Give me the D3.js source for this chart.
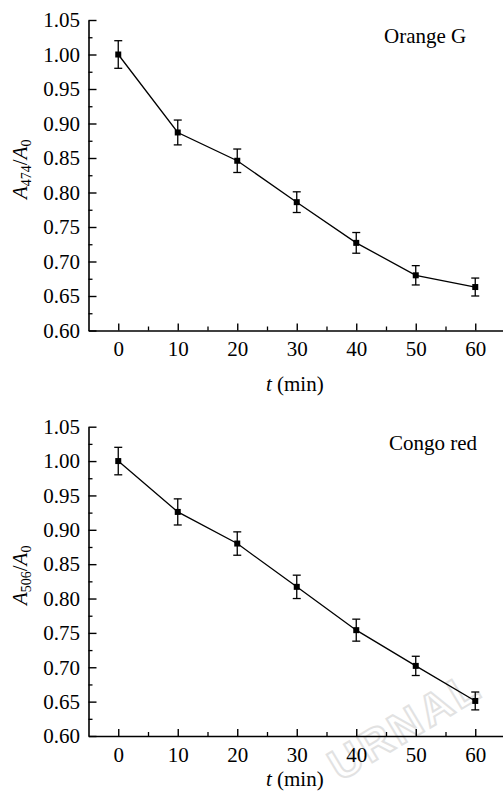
<!DOCTYPE html>
<html>
<head>
<meta charset="utf-8">
<script src="https://cdn.jsdelivr.net/npm/d3@7/dist/d3.min.js"></script>
<style>
  html, body { margin: 0; padding: 0; background: #fff; }
  svg { display: block; }
  text.serif { font-family: "Liberation Serif", "Times New Roman", serif; fill: #000; }
</style>
</head>
<body>
<script>
// ---- data ----
const times = [0, 10, 20, 30, 40, 50, 60];
const orangeG = [1.000, 0.887, 0.846, 0.786, 0.727, 0.680, 0.663];
const orangeGErr = [0.020, 0.018, 0.017, 0.015, 0.015, 0.014, 0.013];
const congoRed = [1.000, 0.926, 0.880, 0.817, 0.754, 0.702, 0.651];
const congoRedErr = [0.020, 0.019, 0.017, 0.017, 0.016, 0.014, 0.013];
const xTicks = [0, 10, 20, 30, 40, 50, 60];
const xMinorTicks = [5, 15, 25, 35, 45, 55];
const yTicks = [0.60, 0.65, 0.70, 0.75, 0.80, 0.85, 0.90, 0.95, 1.00, 1.05];
const yMinorTicks = [0.625, 0.675, 0.725, 0.775, 0.825, 0.875, 0.925, 0.975, 1.025];
const panelNames = ["Orange G", "Congo red"];
const panelWavelengths = ["474", "506"];

const W = 503, H = 791;
const svg = d3.select("body").append("svg").attr("width", W).attr("height", H);

// watermark (faint)
svg.append("text")
  .attr("transform", "translate(340,782) rotate(-31)")
  .attr("font-size", 44).attr("font-weight", "bold")
  .style("font-family", "'Liberation Sans', Arial, sans-serif")
  .style("fill", "none").attr("stroke", "#e2e2e2").attr("stroke-width", 2)
  .attr("letter-spacing", 3)
  .text("URNAL");

const x = d3.scaleLinear().domain([-5, 65]).range([88.5, 505]);

const panels = [
  { vals: orangeG, errs: orangeGErr, name: panelNames[0], wl: panelWavelengths[0], top: 20, bottom: 330.5, nameX: 384, nameY: 43 },
  { vals: congoRed, errs: congoRedErr, name: panelNames[1], wl: panelWavelengths[1], top: 426.7, bottom: 736, nameX: 389, nameY: 450 }
];

panels.forEach(p => {
  const y = d3.scaleLinear().domain([0.60, 1.05]).range([p.bottom, p.top]);
  const g = svg.append("g");

  // minor y ticks
  g.append("g").attr("transform", `translate(${x(-5)},0)`)
    .call(d3.axisLeft(y).tickValues(yMinorTicks).tickSizeInner(-4).tickSizeOuter(0).tickFormat(""))
    .call(s => s.select(".domain").remove())
    .call(s => s.selectAll("line").attr("stroke-width", 1.3));
  // major y axis
  g.append("g").attr("transform", `translate(${x(-5)},0)`)
    .call(d3.axisLeft(y).tickValues(yTicks).tickSizeInner(-8).tickSizeOuter(0).tickPadding(8.5).tickFormat(d3.format(".2f")))
    .call(s => s.select(".domain").attr("stroke-width", 1.6))
    .call(s => s.selectAll("line").attr("stroke-width", 1.4))
    .call(s => s.selectAll("text").attr("class", "serif").attr("font-size", 21));

  // minor x ticks
  g.append("g").attr("transform", `translate(0,${p.bottom})`)
    .call(d3.axisBottom(x).tickValues(xMinorTicks).tickSizeInner(-4).tickSizeOuter(0).tickFormat(""))
    .call(s => s.select(".domain").remove())
    .call(s => s.selectAll("line").attr("stroke-width", 1.3));
  // major x axis
  g.append("g").attr("transform", `translate(0,${p.bottom})`)
    .call(d3.axisBottom(x).tickValues(xTicks).tickSizeInner(-7).tickSizeOuter(0).tickPadding(11).tickFormat(d3.format("d")))
    .call(s => s.select(".domain").attr("stroke-width", 1.6))
    .call(s => s.selectAll("line").attr("stroke-width", 1.4))
    .call(s => s.selectAll("text").attr("class", "serif").attr("font-size", 21));

  const pts = times.map((t, i) => ({ t, v: p.vals[i], e: p.errs[i] }));

  // connecting line
  g.append("path").datum(pts)
    .attr("fill", "none").attr("stroke", "#000").attr("stroke-width", 1.3)
    .attr("d", d3.line().x(d => x(d.t)).y(d => y(d.v)));

  // error bars
  const eb = g.append("g").attr("stroke", "#000").attr("stroke-width", 1.3);
  pts.forEach(d => {
    const cx = x(d.t), y1 = y(d.v + d.e), y2 = y(d.v - d.e);
    eb.append("line").attr("x1", cx).attr("x2", cx).attr("y1", y1).attr("y2", y2);
    eb.append("line").attr("x1", cx - 4).attr("x2", cx + 4).attr("y1", y1).attr("y2", y1);
    eb.append("line").attr("x1", cx - 4).attr("x2", cx + 4).attr("y1", y2).attr("y2", y2);
  });

  // square markers
  g.selectAll("rect.m").data(pts).enter().append("rect")
    .attr("x", d => x(d.t) - 3).attr("y", d => y(d.v) - 3)
    .attr("width", 6).attr("height", 6).attr("fill", "#000");

  // panel name
  g.append("text").attr("class", "serif").attr("x", p.nameX).attr("y", p.nameY).attr("font-size", 21).text(p.name);

  // x label
  const xl = g.append("text").attr("class", "serif").attr("x", x(30) - 2).attr("y", Math.min(p.bottom + 60, H - 5))
    .attr("text-anchor", "middle").attr("font-size", 21);
  xl.append("tspan").attr("font-style", "italic").text("t");
  xl.append("tspan").text(" (min)");

  // y label
  const cy = (p.top + p.bottom) / 2 - 6;
  const yl = g.append("text").attr("class", "serif").attr("transform", `translate(27,${cy}) rotate(-90)`)
    .attr("text-anchor", "middle").attr("font-size", 21);
  yl.append("tspan").attr("font-style", "italic").text("A");
  yl.append("tspan").attr("font-size", 14).attr("dy", 4).text(p.wl);
  yl.append("tspan").attr("dy", -4).text("/");
  yl.append("tspan").attr("font-style", "italic").text("A");
  yl.append("tspan").attr("font-size", 14).attr("dy", 4).text("0");
});
</script>
</body>
</html>
